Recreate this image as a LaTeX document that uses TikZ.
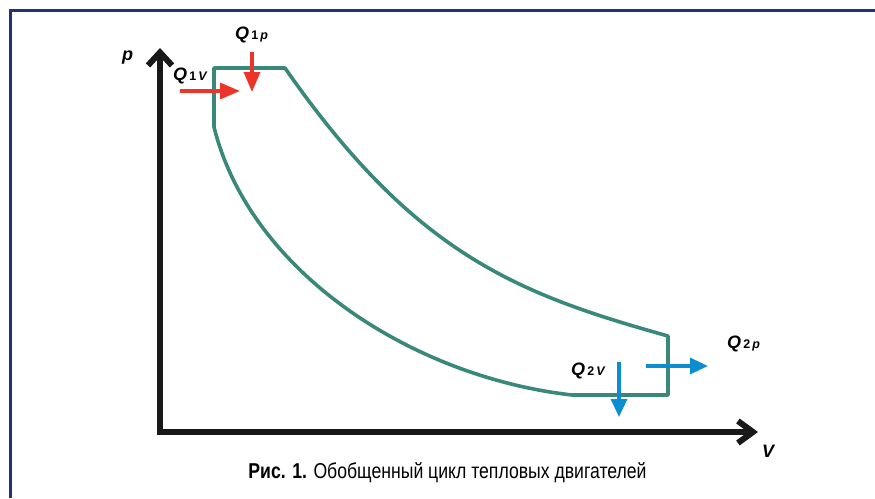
\documentclass[tikz,border=0pt]{standalone}
\usepackage{fontspec}
\setmainfont{Liberation Sans}
\newfontfamily\capfont[FakeStretch=0.82]{Liberation Sans}
\usetikzlibrary{arrows.meta}
\definecolor{cyclegreen}{RGB}{58,136,122}
\definecolor{heatred}{RGB}{236,52,42}
\definecolor{heatblue}{RGB}{10,142,208}
\definecolor{framenavy}{RGB}{36,48,122}
\newcommand{\Qlab}[2]{{\bfseries\itshape\fontsize{18}{18}\selectfont Q}{\bfseries\fontsize{12.5}{12.5}\selectfont\,#1\,\itshape #2}}
\tikzset{
  framestyle/.style={framenavy, line width=3pt},
  axisstyle/.style={line width=6pt, line join=miter, black!90,
    {Straight Barb[length=13pt,width=24pt]}-{Straight Barb[length=15pt,width=22pt]}},
  cyclestyle/.style={cyclegreen, line width=3.6pt, line join=round},
  heatin/.style={heatred, line width=3.3pt, -{Triangle[length=20pt,width=16pt]}},
  heatout/.style={heatblue, line width=3.3pt, -{Triangle[length=18pt,width=16pt]}},
  lbl/.style={inner sep=0pt, anchor=base west},
  axlbl/.style={inner sep=0pt, anchor=base west, font=\bfseries\itshape\fontsize{18}{18}\selectfont}
}
\begin{document}
\begin{tikzpicture}[x=1pt,y=-1pt]
\useasboundingbox (0,0) rectangle (875,498);
% frame
\draw[framestyle] (10,498) -- (10,10.5) -- (875,10.5);
% axes
\coordinate (ptip) at (160,48);
\coordinate (origin) at (160,432);
\coordinate (vtip) at (758,432);
\draw[axisstyle] (ptip) -- (origin) -- (vtip);
\node[axlbl] (plabel) at (122,60.5) {p};
\node[axlbl] (vlabel) at (762,457) {V};
% cycle
\coordinate (A) at (214,127);
\coordinate (B) at (214,68);
\coordinate (C) at (285,68);
\coordinate (D) at (668,336);
\coordinate (E) at (668,395);
\coordinate (F) at (572,395);
\draw[cyclestyle] (A) -- (B) -- (C)
  .. controls (415,255) and (518,294) .. (D)
  -- (E) -- (F)
  .. controls (412,377) and (250,272) .. (A);
% heat arrows
\coordinate (q1vs) at (180,91);
\coordinate (q1ve) at (240,91);
\coordinate (q1ps) at (252,52);
\coordinate (q1pe) at (252,92);
\coordinate (q2vs) at (619,362);
\coordinate (q2ve) at (619,417);
\coordinate (q2ps) at (646,366);
\coordinate (q2pe) at (708,366);
\draw[heatin] (q1vs) -- (q1ve);
\draw[heatin] (q1ps) -- (q1pe);
\draw[heatout] (q2vs) -- (q2ve);
\draw[heatout] (q2ps) -- (q2pe);
% labels
\node[lbl] (Q1p) at (235,39.5) {\Qlab{1}{p}};
\node[lbl] (Q1v) at (173,80.5) {\Qlab{1}{V}};
\node[lbl] (Q2v) at (571,375) {\Qlab{2}{V}};
\node[lbl] (Q2p) at (727,348) {\Qlab{2}{p}};
% caption
\node[inner sep=0pt, anchor=base] (caption) at (447.5,478.3)
  {\capfont\fontsize{21.5}{21.5}\selectfont\textbf{Рис. 1.} Обобщенный цикл тепловых двигателей};
\end{tikzpicture}
\end{document}
